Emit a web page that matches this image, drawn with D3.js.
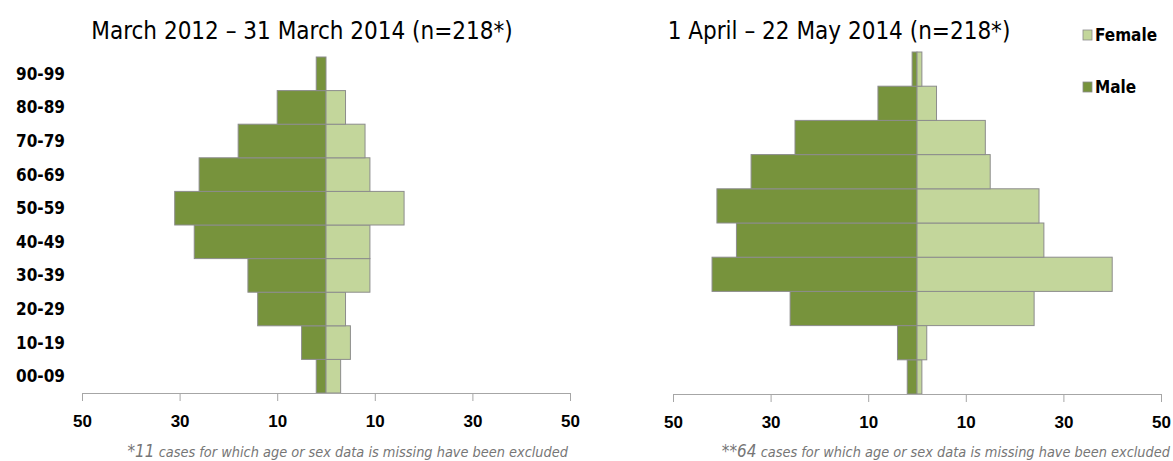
<!DOCTYPE html>
<html>
<head>
<meta charset="utf-8">
<script src="https://cdn.jsdelivr.net/npm/d3@7"></script>
<style>
  body { margin: 0; background: #fff; }
  svg { display: block; font-family: "DejaVu Sans Condensed", "DejaVu Sans", sans-serif; }
</style>
</head>
<body>
<div id="chart"></div>
<script>
// age groups, bottom to top
const ageGroups = ['00-09', '10-19', '20-29', '30-39', '40-49', '50-59', '60-69', '70-79', '80-89', '90-99']

// March 2012 - 31 March 2014
const maleBefore   = [2, 5, 14, 16, 27, 31, 26, 18, 10, 2]
const femaleBefore = [3, 5, 4, 9, 9, 16, 9, 8, 4, 0]

// 1 April - 22 May 2014
const maleAfter   = [2, 4, 26, 42, 37, 41, 34, 25, 8, 1]
const femaleAfter = [1, 2, 24, 40, 26, 25, 15, 14, 4, 1]

const tickValues = [-50, -30, -10, 10, 30, 50]
const titles = ['March 2012 \u2013 31 March 2014 (n=218*)', '1 April \u2013 22 May 2014 (n=218*)']
const footnotes = [['*11', ' cases for which age or sex data is missing have been excluded'],
                   ['**64', ' cases for which age or sex data is missing have been excluded']]
const legendLabels = ['Female', 'Male']

const width = 1173
const height = 461
const maleColor = '#77933c'
const femaleColor = '#c3d69b'
const barStroke = '#8c8c8c'

const svg = d3.select('#chart')
    .append('svg')
    .attr('width', width)
    .attr('height', height)

const drawPyramid = (opts) => {
    const x = d3.scaleLinear()
        .domain([-50, 50])
        .range([opts.left, opts.right])

    const y = d3.scaleBand()
        .domain(ageGroups.slice().reverse())   // oldest on top
        .range([opts.top, opts.bottom])
        .padding(0)

    const g = svg.append('g')

    const rows = ageGroups.map((age, i) => ({age, male: opts.male[i], female: opts.female[i]}))

    // male bars go left of zero
    g.selectAll('rect.male')
        .data(rows)
        .enter()
        .append('rect')
        .attr('class', 'male')
        .attr('x', d => x(-d.male))
        .attr('y', d => y(d.age))
        .attr('width', d => x(0) - x(-d.male))
        .attr('height', y.bandwidth())
        .style('fill', maleColor)
        .style('stroke', barStroke)
        .style('stroke-width', 1)

    g.selectAll('rect.female')
        .data(rows.filter(d => d.female > 0))
        .enter()
        .append('rect')
        .attr('class', 'female')
        .attr('x', x(0))
        .attr('y', d => y(d.age))
        .attr('width', d => x(d.female) - x(0))
        .attr('height', y.bandwidth())
        .style('fill', femaleColor)
        .style('stroke', barStroke)
        .style('stroke-width', 1)

    // bottom axis, labels without sign
    const axis = g.append('g')
        .attr('transform', `translate(0,${opts.bottom})`)
        .call(d3.axisBottom(x)
            .tickValues(tickValues)
            .tickFormat(d => Math.abs(d))
            .tickSizeInner(8)
            .tickSizeOuter(0)
            .tickPadding(14))
    axis.selectAll('path, line').attr('stroke', '#a6a6a6')
    axis.selectAll('text')
        .attr('fill', '#000')
        .style('font-size', '17px')
        .style('font-weight', 'bold')

    if (opts.showLabels) {
        g.selectAll('text.age')
            .data(ageGroups)
            .enter()
            .append('text')
            .attr('class', 'age')
            .attr('x', 16)
            .attr('y', d => y(d) + y.bandwidth() / 2)
            .attr('dy', '0.35em')
            .style('font-size', '17px')
            .style('font-weight', 'bold')
            .text(d => d)
    }

    svg.append('text')
        .attr('x', opts.titleX)
        .attr('y', 39)
        .attr('text-anchor', 'middle')
        .style('font-size', '24px')
        .text(opts.title)

    const note = svg.append('text')
        .attr('x', opts.noteX)
        .attr('y', 457)
        .attr('text-anchor', 'end')
        .style('font-style', 'italic')
        .style('fill', '#767676')
        .style('font-size', '14.4px')
    note.append('tspan').style('font-size', '17px').text(opts.note[0])
    note.append('tspan').text(opts.note[1])
}

drawPyramid({
    left: 82, right: 570, top: 57, bottom: 393,
    male: maleBefore, female: femaleBefore,
    showLabels: true, title: titles[0], titleX: 302,
    note: footnotes[0], noteX: 568
})

drawPyramid({
    left: 673, right: 1161, top: 52, bottom: 394,
    male: maleAfter, female: femaleAfter,
    showLabels: false, title: titles[1], titleX: 839,
    note: footnotes[1], noteX: 1170
})

// legend
const legend = svg.append('g')
    .selectAll('g')
    .data(legendLabels)
    .enter()
    .append('g')
    .attr('transform', (d, i) => `translate(1083,${35 + i * 52})`)

legend.append('rect')
    .attr('x', 0)
    .attr('y', -5)
    .attr('width', 9)
    .attr('height', 10)
    .style('fill', d => d === 'Female' ? femaleColor : maleColor)
    .style('stroke', barStroke)
    .style('stroke-width', 0.8)

legend.append('text')
    .attr('x', 12)
    .attr('dy', '0.35em')
    .style('font-size', '17px')
    .style('font-weight', 'bold')
    .text(d => d)
</script>
</body>
</html>
